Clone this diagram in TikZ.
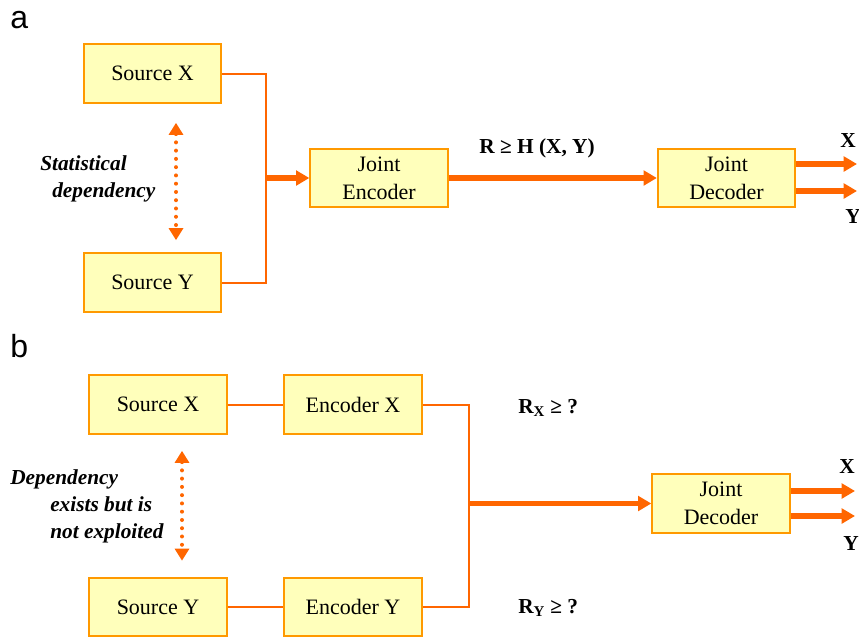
\documentclass[tikz,border=0pt]{standalone}
\usepackage{fontspec}
\setmainfont{Liberation Serif}
\newfontfamily\panelfont{Liberation Sans}
\usepackage{tikz}
\usetikzlibrary{arrows.meta}
\usetikzlibrary{calc}
\definecolor{boxfill}{HTML}{FFFFBB}
\definecolor{boxline}{HTML}{FF9900}
\definecolor{wireorange}{HTML}{FF6600}
\tikzset{basic block/.style={draw=boxline,fill=boxfill,line width=1.5pt}}
\tikzset{block/.style={basic block,
                       minimum width=103pt,
                       minimum height=44pt,
                       align=center,
                       font=\fontsize{16.5}{21}\selectfont}}
\tikzset{wire/.style={draw=wireorange,line width=1.5pt}}
\tikzset{flow/.style={draw=wireorange,
                      line width=4pt,
                      -{Triangle[length=10pt,width=11pt]}}}
\tikzset{dep/.style={draw=wireorange,
                     line width=3pt,
                     line cap=round,
                     dash pattern=on 0pt off 6.2pt,
                     {Triangle[length=9pt,width=10.5pt]}-{Triangle[length=9pt,width=10.5pt]}}}

\begin{document}
\begin{tikzpicture}
    [
      x=0.75pt,y=-0.75pt,
      panel/.style={font=\panelfont\fontsize{24}{28}\selectfont,anchor=base west,inner sep=0pt},
      note/.style={font=\bfseries\itshape\fontsize{16}{20}\selectfont,align=left,anchor=base west,inner sep=0pt},
      rate/.style={font=\bfseries\fontsize{16}{18}\selectfont,inner sep=0pt},
    ]
    \useasboundingbox (0,0) rectangle (859,637);

    % panel a: joint encoding
    \node [panel] (panA) at (10,28) {a};
    \node [block] (srcXa) at (152.5,73.5) {Source X};
    \node [block] (srcYa) at (152.5,282.5) {Source Y};
    \node [block] (encA) at (379,178) {Joint\\Encoder};
    \node [block] (decA) at (726.5,178) {Joint\\Decoder};
    \coordinate (joinA) at (266,178);
    \coordinate (depA) at (176,0);
    \coordinate (outXa) at (857,164);
    \coordinate (outYa) at (857,191);

    \path [wire] (srcXa.east) -| (joinA);
    \path [wire] (srcYa.east) -| (joinA);
    \draw [flow] (joinA) -- (encA.west);
    \draw [flow] (encA.east) -- (decA.west);
    \draw [flow] (decA.east |- outXa) -- (outXa);
    \draw [flow] (decA.east |- outYa) -- (outYa);
    \draw [dep] ($(srcXa.south -| depA)+(0,19)$) -- ($(srcYa.north -| depA)+(0,-12)$);

    % the base of a note is its last line
    \node [note] (noteA) at (40,197) {Statistical\\\hspace*{9pt}dependency};
    \node [rate,anchor=base] (rateA) at (537,153) {R ≥ H (X, Y)};
    \node [rate,anchor=base west] (labXa) at (840,147) {X};
    \node [rate,anchor=base west] (labYa) at (845,223) {Y};

    % panel b: separate encoding
    \node [panel] (panB) at (10,357) {b};
    \node [block] (srcXb) at (158,404.5) {Source X};
    \node [block] (srcYb) at (158,607) {Source Y};
    \node [block] (encXb) at (353,404.5) {Encoder X};
    \node [block] (encYb) at (353,607) {Encoder Y};
    \node [block] (decB) at (721,503.5) {Joint\\Decoder};
    \coordinate (joinB) at (469,503.5);
    \coordinate (depB) at (182,0);
    \coordinate (outXb) at (855,491);
    \coordinate (outYb) at (855,516);

    \path [wire] (srcXb) -- (encXb);
    \path [wire] (srcYb) -- (encYb);
    \path [wire] (encXb.east) -| (joinB);
    \path [wire] (encYb.east) -| (joinB);
    \draw [flow] (joinB) -- (decB.west);
    \draw [flow] (decB.east |- outXb) -- (outXb);
    \draw [flow] (decB.east |- outYb) -- (outYb);
    \draw [dep] ($(srcXb.south -| depB)+(0,16)$) -- ($(srcYb.north -| depB)+(0,-16)$);

    \node [note] (noteB) at (10,538) {Dependency\\\hspace*{30pt}exists but is\\\hspace*{30pt}not exploited};
    \node [rate,anchor=base west] (rateX) at (518,413) {R\textsubscript{X} ≥ ?};
    \node [rate,anchor=base west] (rateY) at (518,613) {R\textsubscript{Y} ≥ ?};
    \node [rate,anchor=base west] (labXb) at (839,473) {X};
    \node [rate,anchor=base west] (labYb) at (843,550) {Y};

  \end{tikzpicture}
\end{document}
